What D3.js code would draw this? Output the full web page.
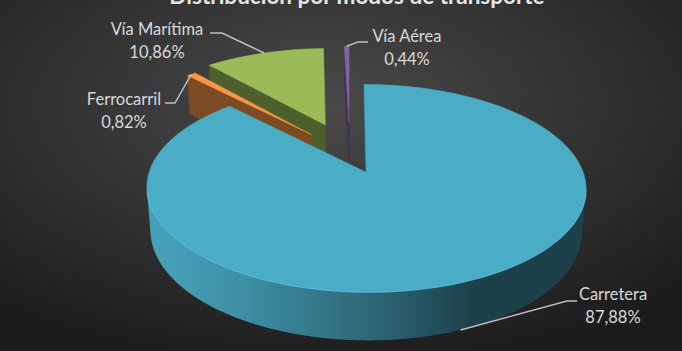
<!DOCTYPE html>
<html>
<head>
<meta charset="utf-8">
<script src="https://cdn.jsdelivr.net/npm/d3@7"></script>
<style>
  body { margin: 0; background: #2b2b2b; }
  svg { display: block; }
</style>
</head>
<body>
<svg width="682" height="351"></svg>
<script>
// data
var categories = ["Carretera", "Ferrocarril", "Vía Marítima", "Vía Aérea"];
var values = [87.88, 0.82, 10.86, 0.44];
var valueLabels = ["87,88%", "0,82%", "10,86%", "0,44%"];
var title = "Distribución por modos de transporte";

// styling
var colors = ["#4bacc6", "#f79646", "#9bbb59", "#8064a2"];
var explode = [0.2, 0.28, 0.34, 0.35];
var labelPos = [
    {x: 613, y: 300, lead: [[577, 301], [567, 301]]},
    {x: 124, y: 105, lead: [[165, 103], [175, 103]]},
    {x: 157, y: 35, lead: [[210, 33], [222, 33]]},
    {x: 407, y: 42, lead: [[368, 42], [358, 42]]}
];

var svg = d3.select("svg");
var W = +svg.attr("width"), Hpx = +svg.attr("height");

// background gradient
var defs = svg.append("defs");
var bg = defs.append("radialGradient").attr("id", "bg")
    .attr("cx", "47%").attr("cy", "30%").attr("r", "75%");
bg.append("stop").attr("offset", "0%").attr("stop-color", "#4a4a4a");
bg.append("stop").attr("offset", "100%").attr("stop-color", "#1c1c1c");
svg.append("rect").attr("width", W).attr("height", Hpx).attr("fill", "url(#bg)");

// 3d projection of the pie (radius 1, top face at Y=0)
var cx = 350, cy = 154, k = 211, depth = 0.228, persp = 0.168;
var phi = Math.asin(0.4545), sf = Math.sin(phi), cf = Math.cos(phi);
var xs = d3.scaleLinear().domain([-1, 1]).range([cx - k, cx + k]);
var ys = d3.scaleLinear().domain([-1, 1]).range([cy + k, cy - k]);
var cam = [0, sf / persp, -cf / persp];

function proj(P) {
    var d = P[2] * cf - P[1] * sf, v = P[2] * sf + P[1] * cf;
    var s = 1 / (1 + persp * d);
    return [xs(P[0] * s), ys(v * s)];
}
function facing(P, n) {
    return (cam[0] - P[0]) * n[0] + (cam[1] - P[1]) * n[1] + (cam[2] - P[2]) * n[2] > 0;
}
var L = [-0.8, 0, -0.35], Ln = Math.hypot(L[0], L[1], L[2]);
function shade(col, f) {
    var c = d3.rgb(col);
    return d3.rgb(c.r * f, c.g * f, c.b * f).toString();
}

var poly = d3.line().curve(d3.curveLinearClosed);
var line = d3.line();

var arcs = d3.pie().sort(null).value(function(d) { return d; })(values);

var slices = arcs.map(function(a, i) {
    var m = (a.startAngle + a.endAngle) / 2;
    var ox = explode[i] * Math.sin(m), oz = explode[i] * Math.cos(m);
    var mid = [ox + 0.5 * Math.sin(m), 0, oz + 0.5 * Math.cos(m)];
    return {i: i, a0: a.startAngle, a1: a.endAngle, m: m, ox: ox, oz: oz,
            z: mid[2] * cf};
});
// farthest first
slices.sort(function(a, b) { return b.z - a.z; });

var pieG = svg.append("g");
var gradId = 0;

slices.forEach(function(sl) {
    var col = colors[sl.i];
    var g = pieG.append("g");
    function rim(t, Y) { return [sl.ox + Math.sin(t), Y, sl.oz + Math.cos(t)]; }
    var apex0 = [sl.ox, 0, sl.oz], apexB = [sl.ox, -depth, sl.oz];
    var n = Math.max(4, Math.ceil((sl.a1 - sl.a0) / (Math.PI / 360)));
    var ts = d3.range(n + 1).map(function(j) { return sl.a0 + (sl.a1 - sl.a0) * j / n; });

    // radial faces
    var faces = [
        {t: sl.a0, n: [-Math.cos(sl.a0), 0, Math.sin(sl.a0)]},
        {t: sl.a1, n: [Math.cos(sl.a1), 0, -Math.sin(sl.a1)]}
    ];
    faces.forEach(function(f) {
        var P = [sl.ox + 0.5 * Math.sin(f.t), -depth / 2, sl.oz + 0.5 * Math.cos(f.t)];
        if (!facing(P, f.n)) return;
        var c = shade(col, 0.5);
        g.append("path")
            .attr("d", poly([apex0, rim(f.t, 0), rim(f.t, -depth), apexB].map(proj)))
            .attr("fill", c).attr("stroke", c).attr("stroke-width", 0.5);
    });

    // outer wall: group visible samples into runs
    var runs = [], cur = null;
    for (var j = 0; j < n; j++) {
        var tm = (ts[j] + ts[j + 1]) / 2;
        var vis = facing(rim(tm, -depth / 2), [Math.sin(tm), 0, Math.cos(tm)]);
        if (vis) {
            if (!cur) { cur = [ts[j]]; runs.push(cur); }
            cur.push(ts[j + 1]);
        } else cur = null;
    }
    runs.forEach(function(run) {
        var topPts = run.map(function(t) { return proj(rim(t, 0)); });
        var botPts = run.map(function(t) { return proj(rim(t, -depth)); }).reverse();
        var xsP = topPts.map(function(p) { return p[0]; });
        var x0 = d3.min(xsP), x1 = d3.max(xsP);
        var id = "wall" + (gradId++);
        var lg = defs.append("linearGradient").attr("id", id)
            .attr("gradientUnits", "userSpaceOnUse")
            .attr("x1", x0).attr("x2", x1).attr("y1", 0).attr("y2", 0);
        var stops = run.map(function(t, j) {
            var dot = Math.max(0, (Math.sin(t) * L[0] + Math.cos(t) * L[2]) / Ln);
            return {o: x1 > x0 ? (topPts[j][0] - x0) / (x1 - x0) : 0, c: shade(col, 0.38 + 0.55 * dot)};
        }).sort(function(a, b) { return a.o - b.o; });
        lg.selectAll("stop").data(stops).enter().append("stop")
            .attr("offset", function(d) { return d.o; })
            .attr("stop-color", function(d) { return d.c; });
        g.append("path")
            .attr("d", poly(topPts.concat(botPts)))
            .attr("fill", "url(#" + id + ")");
    });

    // top face
    var top = [apex0].concat(ts.map(function(t) { return rim(t, 0); }));
    g.append("path")
        .attr("d", poly(top.map(proj)))
        .attr("fill", col).attr("stroke", col).attr("stroke-width", 0.5);

    // bevel highlight on the visible rim
    runs.forEach(function(run) {
        g.append("path")
            .attr("d", line(run.map(function(t) { return proj(rim(t, 0)); })))
            .attr("stroke", d3.rgb(col).brighter(0.7)).attr("stroke-width", 1)
            .attr("stroke-opacity", 0.55).attr("fill", "none");
    });
});

// labels and leader lines
var labG = svg.append("g")
    .style("font-family", "Lato, 'Open Sans', sans-serif")
    .style("font-size", "16.5px")
    .attr("fill", "#d9d9d9")
    .attr("text-anchor", "middle");

arcs.forEach(function(a, i) {
    var m = (a.startAngle + a.endAngle) / 2;
    var ox = explode[i] * Math.sin(m), oz = explode[i] * Math.cos(m);
    var Y = Math.cos(m) < 0 ? -depth : 0;
    var anchor = proj([ox + Math.sin(m), Y, oz + Math.cos(m)]);
    var lp = labelPos[i];
    labG.append("path")
        .attr("d", line(lp.lead.concat([anchor])))
        .attr("fill", "none").attr("stroke", "#bfbfbf").attr("stroke-width", 1.5);
    labG.append("text").attr("x", lp.x).attr("y", lp.y).text(categories[i]);
    labG.append("text").attr("x", lp.x).attr("y", lp.y + 23).text(valueLabels[i]);
});

svg.append("text")
    .attr("x", 357).attr("y", 4)
    .attr("text-anchor", "middle")
    .style("font-family", "Lato, 'Open Sans', sans-serif")
    .style("font-size", "22.5px").style("font-weight", "bold")
    .attr("fill", "#e6e6e6")
    .text(title);
</script>
</body>
</html>
